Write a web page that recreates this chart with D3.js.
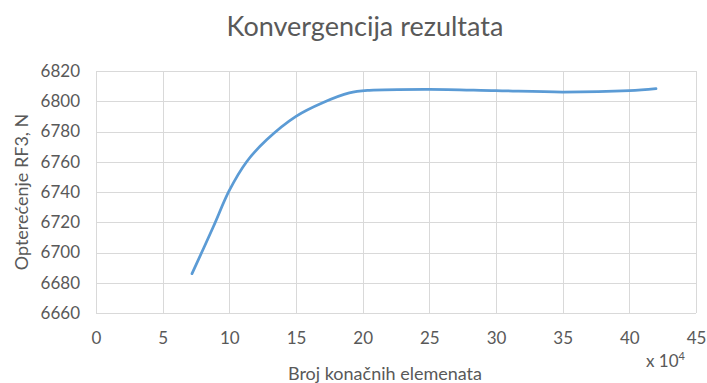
<!DOCTYPE html>
<html>
<head>
<meta charset="utf-8">
<script src="https://cdn.jsdelivr.net/npm/d3@7"></script>
<style>
  html, body { margin: 0; padding: 0; background: #fff; }
  svg { display: block; }
  text { font-family: Lato, "Open Sans", sans-serif; fill: #595959; }
</style>
</head>
<body>
<svg id="chart" width="707" height="383"></svg>
<script>
// Number of finite elements (x 10^4) and the resulting RF3 load (N)
const elements = [7.2, 8.8, 10.0, 11.3, 12.8, 15.0, 17.0, 19.0, 20.5, 25, 30, 35, 40, 42];
const loadRF3 = [6686, 6717, 6741, 6760, 6774.5, 6790, 6799, 6805.5, 6807.2, 6807.9, 6807, 6806.1, 6807, 6808.3];
const xTicks = [0, 5, 10, 15, 20, 25, 30, 35, 40, 45];
const yTicks = [6660, 6680, 6700, 6720, 6740, 6760, 6780, 6800, 6820];

const svg = d3.select("#chart");
const plotLeft = 96, plotRight = 696, plotTop = 71, plotBottom = 313;

const x = d3.scaleLinear().domain([0, 45]).range([plotLeft, plotRight]);
const y = d3.scaleLinear().domain([6660, 6820]).range([plotBottom, plotTop]);

// Gridlines
const grid = svg.append("g").attr("stroke", "#d9d9d9").attr("stroke-width", 1);
grid.selectAll(".vx").data(xTicks).join("line")
  .attr("x1", d => Math.round(x(d)) + 0.5).attr("x2", d => Math.round(x(d)) + 0.5)
  .attr("y1", plotTop).attr("y2", plotBottom);
grid.selectAll(".hy").data(yTicks).join("line")
  .attr("y1", d => Math.round(y(d)) + 0.5).attr("y2", d => Math.round(y(d)) + 0.5)
  .attr("x1", plotLeft).attr("x2", plotRight);

// Axes (labels only)
const xAxis = svg.append("g")
  .attr("transform", `translate(0,${plotBottom})`)
  .call(d3.axisBottom(x).tickValues(xTicks).tickSize(0).tickPadding(19).tickFormat(d3.format("d")));
xAxis.select(".domain").remove();
xAxis.selectAll("text").style("font-size", "17px").attr("fill", "#595959")
  .style("font-family", "Lato, 'Open Sans', sans-serif");

const yAxis = svg.append("g")
  .attr("transform", `translate(${plotLeft},0)`)
  .call(d3.axisLeft(y).tickValues(yTicks).tickSize(0).tickPadding(16).tickFormat(d3.format("d")));
yAxis.select(".domain").remove();
yAxis.selectAll("text").style("font-size", "17px").attr("fill", "#595959")
  .style("font-family", "Lato, 'Open Sans', sans-serif");

// Data line
const line = d3.line()
  .x((d, i) => x(elements[i]))
  .y(d => y(d))
  .curve(d3.curveCatmullRom.alpha(0.5));
svg.append("path")
  .datum(loadRF3)
  .attr("fill", "none")
  .attr("stroke", "#5b9bd5")
  .attr("stroke-width", 2.75)
  .attr("stroke-linecap", "round")
  .attr("d", line);

// Titles
svg.append("text").attr("x", 365).attr("y", 36).attr("text-anchor", "middle")
  .style("font-size", "27px").text("Konvergencija rezultata");
svg.append("text").attr("x", 385).attr("y", 380).attr("text-anchor", "middle")
  .style("font-size", "18px").text("Broj konačnih elemenata");
svg.append("text").attr("transform", "translate(28,192) rotate(-90)").attr("text-anchor", "middle")
  .style("font-size", "18px").text("Opterećenje RF3, N");
const mult = svg.append("text").attr("x", 646).attr("y", 367).style("font-size", "17px");
mult.append("tspan").text("x 10");
mult.append("tspan").attr("dy", -7).style("font-size", "11px").text("4");
</script>
</body>
</html>
